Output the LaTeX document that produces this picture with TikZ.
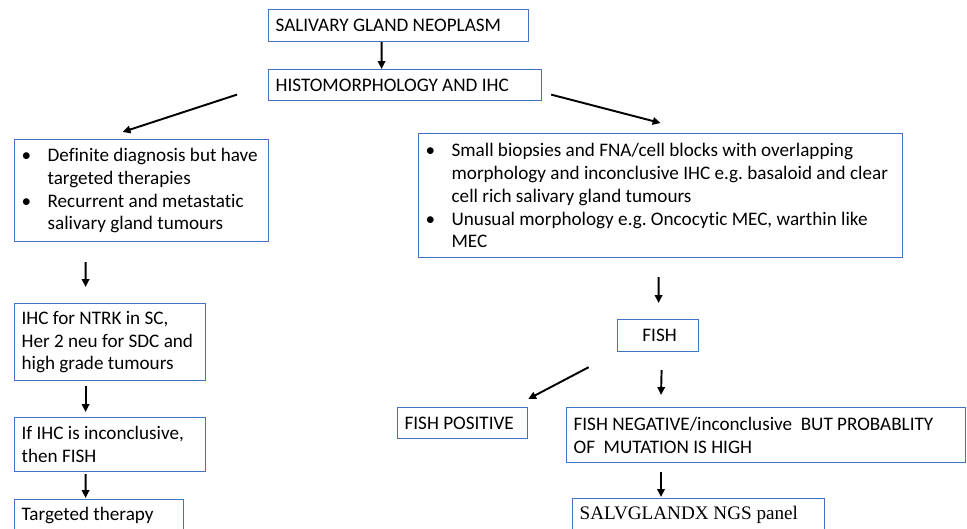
\documentclass[tikz,border=0pt]{standalone}
\usepackage{fontspec}
\setmainfont{Carlito}[Ligatures=NoCommon]
\newfontfamily\timesfont{Liberation Serif}
\usepackage{tikz}
\usetikzlibrary{arrows.meta,calc}
\definecolor{bleubord}{HTML}{4472C4}
\newcommand{\corps}{\fontsize{10.9}{13}\selectfont\frenchspacing}
\newcommand{\puce}{\makebox[0.52cm][l]{\textbullet}}
\newcommand{\retrait}{\hspace*{0.52cm}}
\tikzset{
  boite/.style={draw=bleubord,line width=0.7pt,anchor=north west,align=flush left,
                font=\corps,inner xsep=0.14cm,inner ysep=0pt},
  fleche/.style={-{Triangle[length=4.5pt,width=4.2pt]},line width=1.1pt,color=black},
}

\begin{document}
\begin{tikzpicture}[x=0.02cm,y=-0.02cm]
  \useasboundingbox (0,0) rectangle (967,528);
  \node[boite,text width=4.92cm,minimum height=0.64cm] (neo) at (268,9) {SALIVARY GLAND NEOPLASM};
  \node[boite,text width=5.18cm,minimum height=0.62cm] (histo) at (268,69) {HISTOMORPHOLOGY AND IHC};
  \node[boite,text width=4.80cm,minimum height=2.04cm] (defin) at (14,139)
    {\puce Definite diagnosis but have\\\retrait targeted therapies\\\puce Recurrent and metastatic\\\retrait salivary gland tumours};
  \node[boite,text width=9.40cm,minimum height=2.48cm] (small) at (418,133)
    {\puce Small biopsies and FNA/cell blocks with overlapping\\\retrait morphology and inconclusive IHC e.g. basaloid and clear\\\retrait cell rich salivary gland tumours\\\puce Unusual morphology e.g. Oncocytic MEC, warthin like\\\retrait MEC};
  \node[boite,text width=3.54cm,minimum height=1.54cm] (ihc) at (14,303)
    {IHC for NTRK in SC,\\Her 2 neu for SDC and\\high grade tumours};
  \node[boite,text width=3.54cm,minimum height=1.08cm] (incon) at (14,417)
    {If IHC is inconclusive,\\then FISH};
  \node[boite,text width=3.10cm,minimum height=0.64cm] (targ) at (14,499) {Targeted therapy};
  \node[boite,text width=1.34cm,minimum height=0.64cm,align=flush center] (fish) at (617,319) {\hspace*{0.06cm}FISH};
  \node[boite,text width=2.32cm,minimum height=0.62cm] (fpos) at (397,407) {FISH POSITIVE};
  \node[boite,text width=7.70cm,minimum height=1.10cm] (fneg) at (566,407)
    {FISH NEGATIVE/inconclusive\ \ BUT PROBABLITY\\OF\ \ MUTATION IS HIGH};
  \node[boite,text width=4.76cm,minimum height=0.64cm,font=\timesfont\corps] (ngs) at (572,498) {SALVGLANDX NGS panel};

  \draw[fleche] ($(neo.south)+(-17,0)$) -- ($(histo.north)+(-23.5,0)$);
  \draw[fleche] ($(histo.west)+(-31,9.5)$) -- ($(defin.north)+(-19,-7)$);
  \draw[fleche] ($(histo.east)+(9,9.5)$) -- ($(small.north)+(0,-10)$);
  \draw[fleche] ($(defin.south)+(-56,20)$) -- ($(ihc.north)+(-24.5,-16)$);
  \draw[fleche] ($(ihc.south)+(-24.5,5)$) -- ($(incon.north)+(-24.5,-5)$);
  \draw[fleche] ($(incon.south)+(-24.5,2)$) -- ($(targ.north)+(-13.5,-1)$);
  \draw[fleche] ($(small.south)+(-2,19)$) -- ($(fish.north)+(0.5,-16)$);
  \draw[fleche] ($(fish.south)+(-69.5,15)$) -- ($(fpos.north east)+(0,-8)$);
  \draw[fleche] ($(fish.south)+(3.5,18)$) -- ($(fneg.north west)+(95,-12)$);
  \draw[fleche] ($(fneg.south west)+(95,9)$) -- ($(ngs.north west)+(89,-1)$);
\end{tikzpicture}
\end{document}
